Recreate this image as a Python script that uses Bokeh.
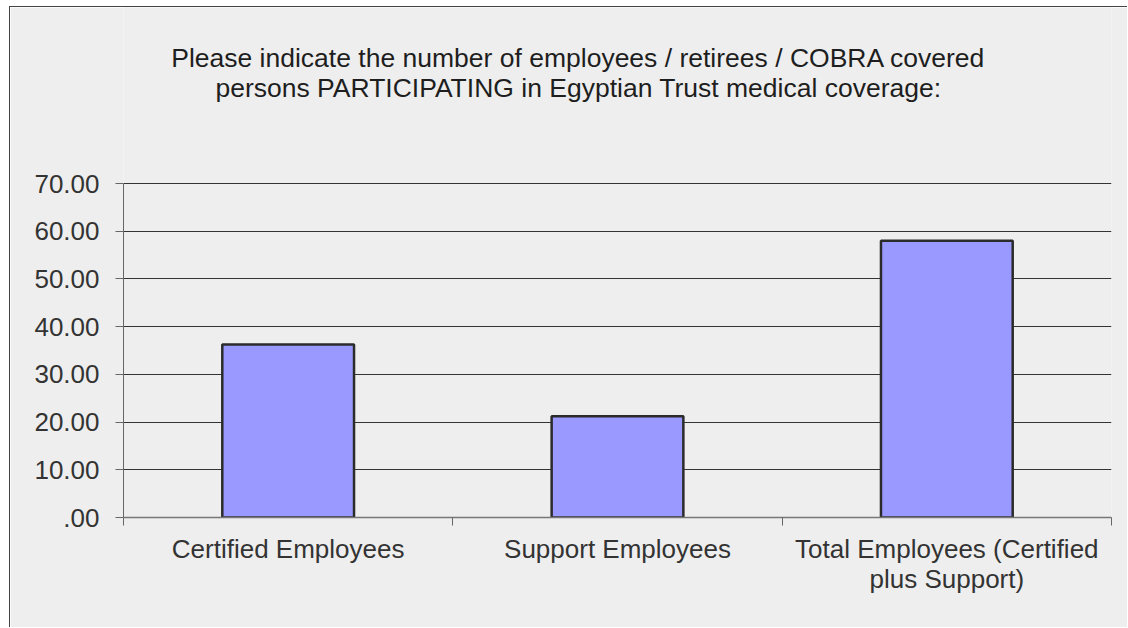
from bokeh.plotting import figure
from bokeh.models import (Range1d, LinearAxis, FixedTicker, ColumnDataSource, Label)
from bokeh.embed import file_html
from bokeh.resources import INLINE

# ---- data ----
categories = ["Certified Employees", "Support Employees", "Total Employees (Certified\nplus Support)"]
values = [36.25, 21.2, 58.0]
y_ticks = [0, 10, 20, 30, 40, 50, 60, 70]
y_tick_labels = [".00", "10.00", "20.00", "30.00", "40.00", "50.00", "60.00", "70.00"]
title_lines = ["Please indicate the number of employees / retirees / COBRA covered",
               "persons PARTICIPATING in Egyptian Trust medical coverage:"]

FONT = "Liberation Sans"
BG = "#eeeeee"
TXT = "#333333"

n = len(categories)
centers = [i + 0.5 for i in range(n)]
bounds = list(range(n + 1))
src = ColumnDataSource(dict(x=centers, val=values, cat=categories))

# frame extends up to the top of the canvas so the title can sit inside it;
# the value scale keeps 0..70 spanning 334 px
FRAME_H = 510
AXIS_H = 334
y_top = y_ticks[-1] * FRAME_H / AXIS_H

p = figure(width=1118, height=621,
           x_range=Range1d(0, n), y_range=Range1d(0, y_top),
           x_axis_location=None, y_axis_location=None,
           output_backend="svg", toolbar_location=None,
           min_border_left=113, min_border_right=17,
           min_border_top=0, min_border_bottom=111,
           background_fill_color=BG, border_fill_color=BG,
           outline_line_color=None)
p.margin = (6, 0, 0, 9)
p.styles = {"border-left": "1px solid #444444", "border-top": "1px solid #444444"}

p.vbar(x="x", top="val", bottom=0, width=0.4, source=src,
       fill_color="#9999ff", line_color="#2b2b2b", line_width=2.5)

# y axis
yax = LinearAxis(ticker=FixedTicker(ticks=y_ticks), bounds=(y_ticks[0], y_ticks[-1]))
yax.major_label_overrides = {t: s for t, s in zip(y_ticks, y_tick_labels)}
yax.major_label_text_font = FONT
yax.major_label_text_font_size = "26px"
yax.major_label_text_color = TXT
yax.major_label_standoff = 16
yax.major_tick_out = 8
yax.major_tick_in = 0
yax.minor_tick_line_color = None
yax.axis_line_color = "#666666"
yax.major_tick_line_color = "#666666"
p.add_layout(yax, "left")

# category axis: labels at centres, boundary ticks as minor ticks
cax = LinearAxis(ticker=FixedTicker(ticks=centers, minor_ticks=bounds))
cax.major_label_overrides = {c: s for c, s in zip(centers, categories)}
cax.axis_line_color = "#777777"
cax.axis_line_width = 1.5
cax.major_tick_line_color = None
cax.major_tick_out = 8
cax.major_tick_in = 0
cax.minor_tick_line_color = "#666666"
cax.minor_tick_out = 8
cax.minor_tick_in = 0
cax.major_label_standoff = 8
cax.major_label_text_font = FONT
cax.major_label_text_font_size = "26px"
cax.major_label_text_line_height = 1.0
cax.major_label_text_color = TXT
p.add_layout(cax, "below")

# grid
p.xgrid.grid_line_color = None
p.ygrid.grid_line_color = "#333333"
p.ygrid.grid_line_width = 1
p.ygrid.ticker = FixedTicker(ticks=y_ticks[1:])

# title (two centred lines)
for txt, yo in zip(title_lines, [460, 430]):
    p.add_layout(Label(x=455, y=yo, x_units="screen", y_units="screen", text=txt,
                       text_align="center", text_baseline="alphabetic", text_font=FONT,
                       text_font_size="26.5px", text_color="#1e1e1e"))

open("out.html", "w").write(file_html(p, INLINE))
